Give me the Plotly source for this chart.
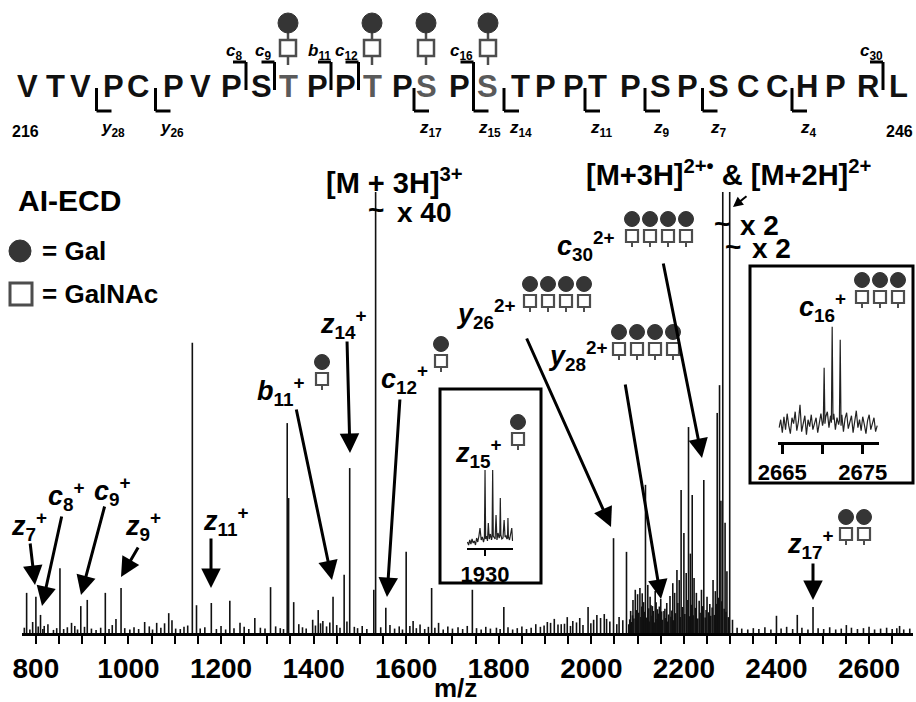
import plotly.graph_objects as go

# ------------------------------------------------------------------ data
# main spectrum: labelled / visible peaks (m/z, relative intensity; clipped peaks = 100)
peak_mz = [780, 793, 800, 810, 818, 852, 877, 897, 911, 950,
           973, 984, 1035, 1061, 1087, 1094, 1138, 1147, 1179, 1219,
           1241, 1273, 1307, 1343, 1346, 1357, 1398, 1410, 1420, 1442,
           1466, 1478, 1530, 1534, 1556, 1600, 1615, 1655, 1670, 1743,
           1811, 1905, 1920, 1935, 1948, 1960, 1975, 1993, 2005, 2012,
           2020, 2028, 2033, 2048, 2060, 2076, 2085, 2090, 2095, 2100,
           2105, 2110, 2113, 2117, 2122, 2127, 2132, 2138, 2143, 2150,
           2157, 2163, 2170, 2176, 2180, 2185, 2190, 2194, 2200, 2205,
           2210, 2214, 2218, 2222, 2227, 2233, 2238, 2243, 2250, 2256,
           2263, 2268, 2272, 2277, 2280, 2284, 2289, 2293, 2299, 2305,
           2400, 2445, 2479, 2551, 2600, 2666]
peak_int = [9.1, 2.5, 8.2, 4.1, 1.6, 14.7, 2.3, 6.1, 7.5, 9.1,
            3.2, 10.2, 2.5, 2.3, 4.5, 2.9, 65.8, 6.3, 6.8, 7.3,
            2.3, 3.4, 10.4, 47.6, 30.6, 7.0, 3.0, 5.2, 2.7, 8.2,
            13.2, 37.4, 9.8, 100, 5.7, 18.4, 2.7, 10.2, 2.3, 9.8,
            5.9, 2.5, 3.2, 2.0, 3.6, 2.7, 3.4, 5.9, 3.0, 4.1,
            3.4, 4.3, 3.2, 21.5, 3.6, 18.4, 5.0, 7.5, 9.8, 8.8,
            10.2, 9.0, 7.0, 33.6, 10.9, 8.2, 6.1, 9.5, 5.4, 7.7,
            5.0, 6.8, 8.4, 11.3, 9.1, 14.3, 12.0, 32.4, 22.7, 13.6,
            46.7, 18.0, 31.3, 12.5, 9.1, 7.3, 9.8, 34.7, 8.2, 6.6,
            12.0, 9.5, 49.9, 56.2, 30.0, 100, 25.0, 14.0, 100, 3.0,
            3.9, 4.1, 5.9, 1.8, 1.4, 1.6]

# dense unresolved cluster under the charge-reduced precursor region
cluster_mz = [2081, 2083, 2087, 2089, 2092, 2097, 2099, 2102, 2107, 2109,
              2112, 2115, 2119, 2124, 2125, 2129, 2131, 2134, 2136, 2140,
              2142, 2145, 2147, 2149, 2152, 2154, 2159, 2161, 2165, 2167,
              2172, 2174, 2178, 2182, 2187, 2192, 2197, 2202, 2207, 2212,
              2216, 2220, 2225, 2230, 2235, 2240, 2246, 2248, 2253, 2258,
              2261, 2266, 2270, 2275, 2282, 2287, 2291, 2296]
cluster_int = [2.0, 3.1, 2.5, 4.0, 3.3, 5.2, 2.8, 4.6, 3.6, 6.0,
               2.9, 4.8, 3.5, 5.6, 2.6, 6.3, 3.9, 5.0, 2.4, 7.0,
               3.2, 4.4, 6.0, 2.7, 4.9, 3.0, 5.5, 3.4, 2.6, 4.2,
               3.7, 5.1, 2.9, 4.5, 6.8, 3.6, 5.9, 4.3, 7.5, 3.8,
               6.4, 4.0, 5.7, 3.3, 4.6, 6.1, 3.5, 5.2, 4.7, 3.9,
               5.8, 4.1, 6.6, 8.0, 7.2, 5.5, 4.8, 3.6]

# baseline "grass"
noise_mz = [775, 787, 805, 815, 826, 838, 845, 860, 868, 884,
            890, 905, 920, 930, 940, 958, 965, 992, 1003, 1012,
            1022, 1045, 1052, 1070, 1078, 1102, 1112, 1120, 1128, 1155,
            1165, 1190, 1200, 1210, 1228, 1250, 1260, 1285, 1295, 1318,
            1328, 1335, 1368, 1376, 1384, 1404, 1415, 1428, 1435, 1450,
            1457, 1472, 1488, 1495, 1505, 1515, 1545, 1565, 1575, 1585,
            1592, 1608, 1622, 1630, 1640, 1648, 1662, 1680, 1690, 1700,
            1712, 1722, 1732, 1752, 1762, 1772, 1782, 1795, 1803, 1820,
            1830, 1840, 1850, 1860, 1870, 1880, 1890, 1898, 1912, 1928,
            1942, 1955, 1968, 1982, 1999, 2040, 2055, 2068, 2315, 2325,
            2338, 2350, 2362, 2375, 2388, 2410, 2422, 2435, 2455, 2468,
            2490, 2502, 2515, 2528, 2540, 2562, 2575, 2588, 2612, 2625,
            2638, 2650, 2660, 2675, 2688]
noise_int = [1.2, 0.8, 1.5, 0.9, 2.0, 0.7, 1.1, 0.9, 1.3, 1.6,
             0.8, 1.4, 1.0, 0.7, 1.2, 0.9, 1.8, 1.1, 0.8, 1.3,
             0.9, 1.5, 0.8, 1.2, 2.2, 1.0, 0.9, 1.4, 1.7, 1.0,
             1.3, 0.9, 1.6, 0.8, 1.1, 1.4, 0.9, 1.2, 1.0, 1.5,
             1.1, 0.9, 2.0, 1.3, 1.0, 1.7, 2.2, 1.5, 2.4, 1.8,
             1.2, 2.6, 1.4, 1.1, 1.6, 0.9, 1.3, 1.8, 1.0, 1.5,
             0.8, 1.6, 1.1, 1.9, 0.9, 1.4, 1.2, 0.8, 1.5, 1.0,
             1.3, 0.9, 1.6, 1.1, 0.8, 1.4, 1.0, 1.2, 0.9, 1.3,
             0.8, 1.1, 1.5, 0.9, 1.2, 2.0, 1.4, 1.7, 2.3, 1.9,
             2.1, 1.6, 2.4, 1.8, 2.2, 2.6, 2.0, 2.9, 1.2, 1.0,
             0.8, 1.1, 0.9, 1.3, 0.8, 1.0, 1.4, 0.9, 1.2, 0.8,
             1.1, 0.9, 1.3, 0.8, 1.0, 1.2, 0.9, 1.1, 0.8, 1.0,
             1.2, 0.9, 1.1, 0.8, 1.0]

tick_values = [800, 1000, 1200, 1400, 1600, 1800, 2000, 2200, 2400, 2600]
tick_labels = ['800', '1000', '1200', '1400', '1600', '1800', '2000', '2200', '2400', '2600']

# inset z15+ (profile around m/z 1930)
z15_mz = [1927.7, 1927.85, 1928.0, 1928.15, 1928.3, 1928.45, 1928.6, 1928.75, 1928.9, 1929.05,
          1929.2, 1929.34, 1929.5, 1929.65, 1929.8, 1929.92, 1930.0, 1930.08, 1930.2, 1930.32,
          1930.43, 1930.55, 1930.7, 1930.85, 1930.92, 1931.0, 1931.08, 1931.2, 1931.32, 1931.44,
          1931.56, 1931.7, 1931.85, 1931.93, 1932.0, 1932.07, 1932.2, 1932.35, 1932.5, 1932.62,
          1932.75, 1932.87, 1932.94, 1933.0, 1933.06, 1933.2, 1933.35, 1933.5, 1933.6]
z15_int = [6, 3, 8, 4, 9, 5, 7, 3, 10, 6,
           12, 20, 8, 11, 6, 10, 78, 9, 12, 7,
           25, 9, 14, 8, 11, 78, 12, 10, 9, 33,
           8, 15, 10, 12, 50, 13, 9, 10, 28, 11,
           12, 9, 10, 30, 11, 8, 14, 20, 7]
z15_ticks = [1930]
z15_ticklabels = ['1930']

# inset c16+ (profile around m/z 2665-2677)
c16_mz = [2664.6, 2664.8, 2665.0, 2665.2, 2665.4, 2665.6, 2665.8, 2666.0, 2666.2, 2666.4,
          2666.6, 2666.8, 2667.0, 2667.2, 2667.4, 2667.6, 2667.8, 2668.0, 2668.2, 2668.4,
          2668.6, 2668.8, 2669.0, 2669.2, 2669.4, 2669.6, 2669.8, 2670.0,
          2670.1, 2670.2, 2670.3, 2670.4, 2670.6, 2670.8, 2671.0,
          2671.1, 2671.2, 2671.3, 2671.4, 2671.6, 2671.8, 2672.0,
          2672.1, 2672.2, 2672.3, 2672.4,
          2672.6, 2672.8, 2673.0, 2673.2, 2673.4, 2673.6, 2673.8, 2674.0, 2674.2, 2674.4,
          2674.6, 2674.8, 2675.0, 2675.2, 2675.4, 2675.6, 2675.8, 2676.0, 2676.2, 2676.4,
          2676.6, 2676.8]
c16_int = [14, 22, 9, 25, 12, 28, 16, 8, 24, 18,
           30, 11, 20, 37, 10, 19, 26, 7, 22, 15,
           27, 12, 18, 24, 9, 21, 28, 16,
           20, 74, 18, 25, 30, 14, 26,
           19, 115, 22, 28, 12, 24, 17,
           21, 102, 16, 27,
           10, 23, 29, 13, 20, 26, 9, 18, 31, 14,
           22, 11, 25, 17, 8, 21, 27, 12, 19, 24,
           10, 16]
c16_ticks = [2665, 2670, 2675]
c16_ticklabels = ['2665', '', '2675']

# peptide sequence 216-246
sequence = list("VTVPCPVPSTPPTPSPSTPPTPSPSCCHPRL")
glyco_residues = [10, 13, 15, 17]          # 1-based index in sequence
c_fragments = [('c', '8', 8), ('c', '9', 9), ('b', '11', 11), ('c', '12', 12), ('c', '16', 16), ('c', '30', 30)]
z_fragments = [('y', '28', 28), ('y', '26', 26), ('z', '17', 17), ('z', '15', 15), ('z', '14', 14),
               ('z', '11', 11), ('z', '9', 9), ('z', '7', 7), ('z', '4', 4)]

# ------------------------------------------------------------------ layout helpers
W_PX, H_PX = 916, 702
ML, MR, MT, MB = 22, 3, 0, 69
PW = W_PX - ML - MR
PH = H_PX - MT - MB
X_RANGE = [770, 2695]
Y_TOP = PH / 4.41

FONT = 'Liberation Sans, Arial, Helvetica, sans-serif'
GAL = '#353535'
GALNAC = '#4d4d4d'


def fx(x):
    return (x - ML) / PW


def fy(y):
    return (PH + MT - y) / PH


shapes = []
annots = []


def line(x0, y0, x1, y1, color='black', w=3):
    shapes.append(dict(type='line', xref='paper', yref='paper', x0=fx(x0), y0=fy(y0),
                       x1=fx(x1), y1=fy(y1), line=dict(color=color, width=w)))


def circle(cx, cy, d, color=GAL):
    shapes.append(dict(type='circle', xref='paper', yref='paper',
                       x0=fx(cx - d / 2), x1=fx(cx + d / 2), y0=fy(cy + d / 2), y1=fy(cy - d / 2),
                       fillcolor=color, line=dict(color=color, width=1)))


def square(cx, cy, s, w=2.5, color=GALNAC):
    shapes.append(dict(type='rect', xref='paper', yref='paper',
                       x0=fx(cx - s / 2), x1=fx(cx + s / 2), y0=fy(cy + s / 2), y1=fy(cy - s / 2),
                       fillcolor='white', line=dict(color=color, width=w)))


def rect(x0, y0, x1, y1, w=3):
    shapes.append(dict(type='rect', xref='paper', yref='paper', x0=fx(x0), x1=fx(x1),
                       y0=fy(y1), y1=fy(y0), line=dict(color='black', width=w)))


def text(x, y, s, size, color='black', xanchor='center', yanchor='middle'):
    annots.append(dict(x=fx(x), y=fy(y), xref='paper', yref='paper', text=s, showarrow=False,
                       xanchor=xanchor, yanchor=yanchor,
                       font=dict(family=FONT, size=size, color=color)))


def arrow(tx, ty, hx, hy, w=3, size=1.3):
    annots.append(dict(x=fx(hx), y=fy(hy), xref='paper', yref='paper', ax=tx - hx, ay=ty - hy,
                       axref='pixel', ayref='pixel', text='', showarrow=True, arrowhead=2,
                       arrowsize=size, arrowwidth=w, arrowcolor='black', standoff=0))


def small_glycan(cx, cy):
    circle(cx, cy, 15)
    square(cx, cy + 17, 12, w=2.2)
    line(cx, cy + 23, cx, cy + 28, color=GALNAC, w=2)


def ion(letter, sub, sup):
    return '<b><i>%s</i><sub>%s</sub><sup>%s</sup></b>' % (letter, sub, sup)


# ------------------------------------------------------------------ header: sequence
res_x = [27, 55, 80, 113, 138, 173, 200, 231, 261, 288, 317, 345, 372, 402, 426, 459,
         488, 520, 545, 573, 597, 630, 660, 687, 718, 748, 777, 807, 835, 868, 898]
SEQ_Y = 87
for i, aa in enumerate(sequence):
    col = '#5a5a5a' if (i + 1) in glyco_residues else '#111111'
    text(res_x[i], SEQ_Y, '<b>%s</b>' % aa, 31, color=col)

for i in glyco_residues:
    x = res_x[i - 1]
    line(x, 31, x, 40, color=GALNAC, w=2.5)
    line(x, 56, x, 65, color=GALNAC, w=2.5)
    circle(x, 23, 20)
    square(x, 48, 16, w=2.5)

n_res = len(sequence)
for letter, sub, n in c_fragments:
    xv = (res_x[n - 1] + res_x[n]) / 2
    line(xv - 13, 62, xv, 62)
    line(xv, 62, xv, 90)
    text(xv - 12, 52, '<b><i>%s</i><sub>%s</sub></b>' % (letter, sub), 17, xanchor='center')

for letter, sub, n in z_fragments:
    k = n_res - n  # residues before cleavage
    xv = (res_x[k - 1] + res_x[k]) / 2
    line(xv, 88, xv, 111)
    line(xv, 111, xv + 15, 111)
    text(xv + 16, 129, '<b><i>%s</i><sub>%s</sub></b>' % (letter, sub), 17)

text(25, 131, '<b>216</b>', 16)
text(899, 131, '<b>246</b>', 16)

# ------------------------------------------------------------------ legend block
text(69, 200, '<b>AI-ECD</b>', 30)
circle(20, 251, 22)
text(40, 251, '<b>= Gal</b>', 26, xanchor='left')
square(21, 294, 22, w=3)
text(40, 294, '<b>= GalNAc</b>', 26, xanchor='left')

# ------------------------------------------------------------------ ion labels
LS = 27
text(29, 526, ion('z', '7', '+'), LS)
text(66, 496, ion('c', '8', '+'), LS)
text(112, 491, ion('c', '9', '+'), LS)
text(143, 526, ion('z', '9', '+'), LS)
text(226, 521, ion('z', '11', '+'), LS)
text(281, 391, ion('b', '11', '+'), LS)
small_glycan(322, 362)
text(343, 324, ion('z', '14', '+'), LS)
text(404, 379, ion('c', '12', '+'), LS)
small_glycan(441, 344)
text(586, 246, ion('c', '30', '2+'), LS)
for gx in [632, 650, 668, 686]:
    small_glycan(gx, 219)
text(486, 314, ion('y', '26', '2+'), LS)
for gx in [530, 548, 566, 584]:
    small_glycan(gx, 284)
text(578, 356, ion('y', '28', '2+'), LS)
for gx in [619, 637, 655, 673]:
    small_glycan(gx, 332)
text(478, 453, ion('z', '15', '+'), LS)
small_glycan(518, 422)
text(822, 307, ion('c', '16', '+'), LS)
for gx in [862, 880, 898]:
    small_glycan(gx, 280)
text(810, 544, ion('z', '17', '+'), LS)
for gx in [846, 864]:
    small_glycan(gx, 517)

text(394, 181, '<b>[M + 3H]<sup>3+</sup></b>', 29)
text(376, 209, '<b>~</b>', 28)
text(395, 212, '<b>x 40</b>', 28, xanchor='left')
text(729, 173, '<b>[M+3H]<sup>2+•</sup> & [M+2H]<sup>2+</sup></b>', 29)
text(722, 223, '<b>~</b>', 28)
text(738, 226, '<b>x 2</b>', 28, xanchor='left')
text(733, 246, '<b>~</b>', 28)
text(750, 248, '<b>x 2</b>', 28, xanchor='left')

# ------------------------------------------------------------------ arrows
arrow(30, 542, 35, 585)
arrow(62, 515, 42, 606)
arrow(105, 505, 81, 595)
arrow(139, 546, 121, 577)
arrow(211, 537, 211, 588)
arrow(296, 408, 332, 580)
arrow(347, 340, 350, 453)
arrow(400, 398, 387, 597)
arrow(526, 337, 611, 527)
arrow(625, 383, 661, 599)
arrow(663, 262, 702, 458)
arrow(813, 562, 813, 600)
arrow(748, 195, 733, 207, w=2, size=1.0)

# ------------------------------------------------------------------ inset boxes
rect(440, 389, 541, 583)
rect(750, 266, 913, 483)

text(455, 688, '<b>m/z</b>', 26)

# ------------------------------------------------------------------ traces
fig = go.Figure()
xs, ys = [], []
for m, v in zip(peak_mz + cluster_mz + noise_mz, peak_int + cluster_int + noise_int):
    xs += [m, m, None]
    ys += [0, v, None]
fig.add_trace(go.Scatter(x=xs, y=ys, mode='lines', line=dict(color='#111111', width=1.6),
                         hoverinfo='skip', showlegend=False))
fig.add_trace(go.Scatter(x=z15_mz, y=z15_int, mode='lines', xaxis='x2', yaxis='y2',
                         line=dict(color='#222222', width=1.2), hoverinfo='skip', showlegend=False))
fig.add_trace(go.Scatter(x=c16_mz, y=c16_int, mode='lines', xaxis='x3', yaxis='y3',
                         line=dict(color='#222222', width=1.2), hoverinfo='skip', showlegend=False))

fig.update_layout(
    width=W_PX, height=H_PX,
    margin=dict(l=ML, r=MR, t=MT, b=MB, pad=0),
    paper_bgcolor='white', plot_bgcolor='rgba(0,0,0,0)',
    showlegend=False,
    font=dict(family=FONT, color='black'),
    xaxis=dict(domain=[0, 1], range=X_RANGE, showline=True, linewidth=3, linecolor='black',
               ticks='outside', ticklen=8, tickwidth=2, tickcolor='black',
               tickvals=tick_values, ticktext=['<b>%s</b>' % t for t in tick_labels],
               tickfont=dict(family=FONT, size=28, color='black'),
               minor=dict(tick0=750, dtick=50, ticks='outside', ticklen=8, tickwidth=2,
                          tickcolor='black', showgrid=False),
               showgrid=False, zeroline=False, automargin=False, anchor='y'),
    yaxis=dict(domain=[0, 1], range=[0, Y_TOP], visible=False, anchor='x'),
    xaxis2=dict(domain=[fx(466.7), fx(513.3)], range=[1927.6, 1933.7], anchor='y2',
                showline=True, linewidth=2, linecolor='black', ticks='outside', ticklen=6,
                tickwidth=2, tickcolor='black', tickvals=z15_ticks,
                ticktext=['<b>%s</b>' % t for t in z15_ticklabels],
                tickfont=dict(family=FONT, size=22, color='black'),
                showgrid=False, zeroline=False, automargin=False),
    yaxis2=dict(domain=[fy(548), fy(448)], range=[0, 100], visible=False, anchor='x2'),
    xaxis3=dict(domain=[fx(778.3), fx(879.3)], range=[2664.5, 2677.06], anchor='y3',
                showline=True, linewidth=3, linecolor='black', ticks='outside', ticklen=9,
                tickwidth=2.5, tickcolor='black', tickvals=c16_ticks,
                ticktext=['<b>%s</b>' % t if t else '' for t in c16_ticklabels],
                tickfont=dict(family=FONT, size=22, color='black'),
                showgrid=False, zeroline=False, automargin=False),
    yaxis3=dict(domain=[fy(441.7), fy(321.7)], range=[0, 120], visible=False, anchor='x3'),
    shapes=shapes,
    annotations=annots,
)

fig.write_html('out.html', config={'displayModeBar': False},
               post_script="document.body.style.margin='0';document.body.style.padding='0';")
